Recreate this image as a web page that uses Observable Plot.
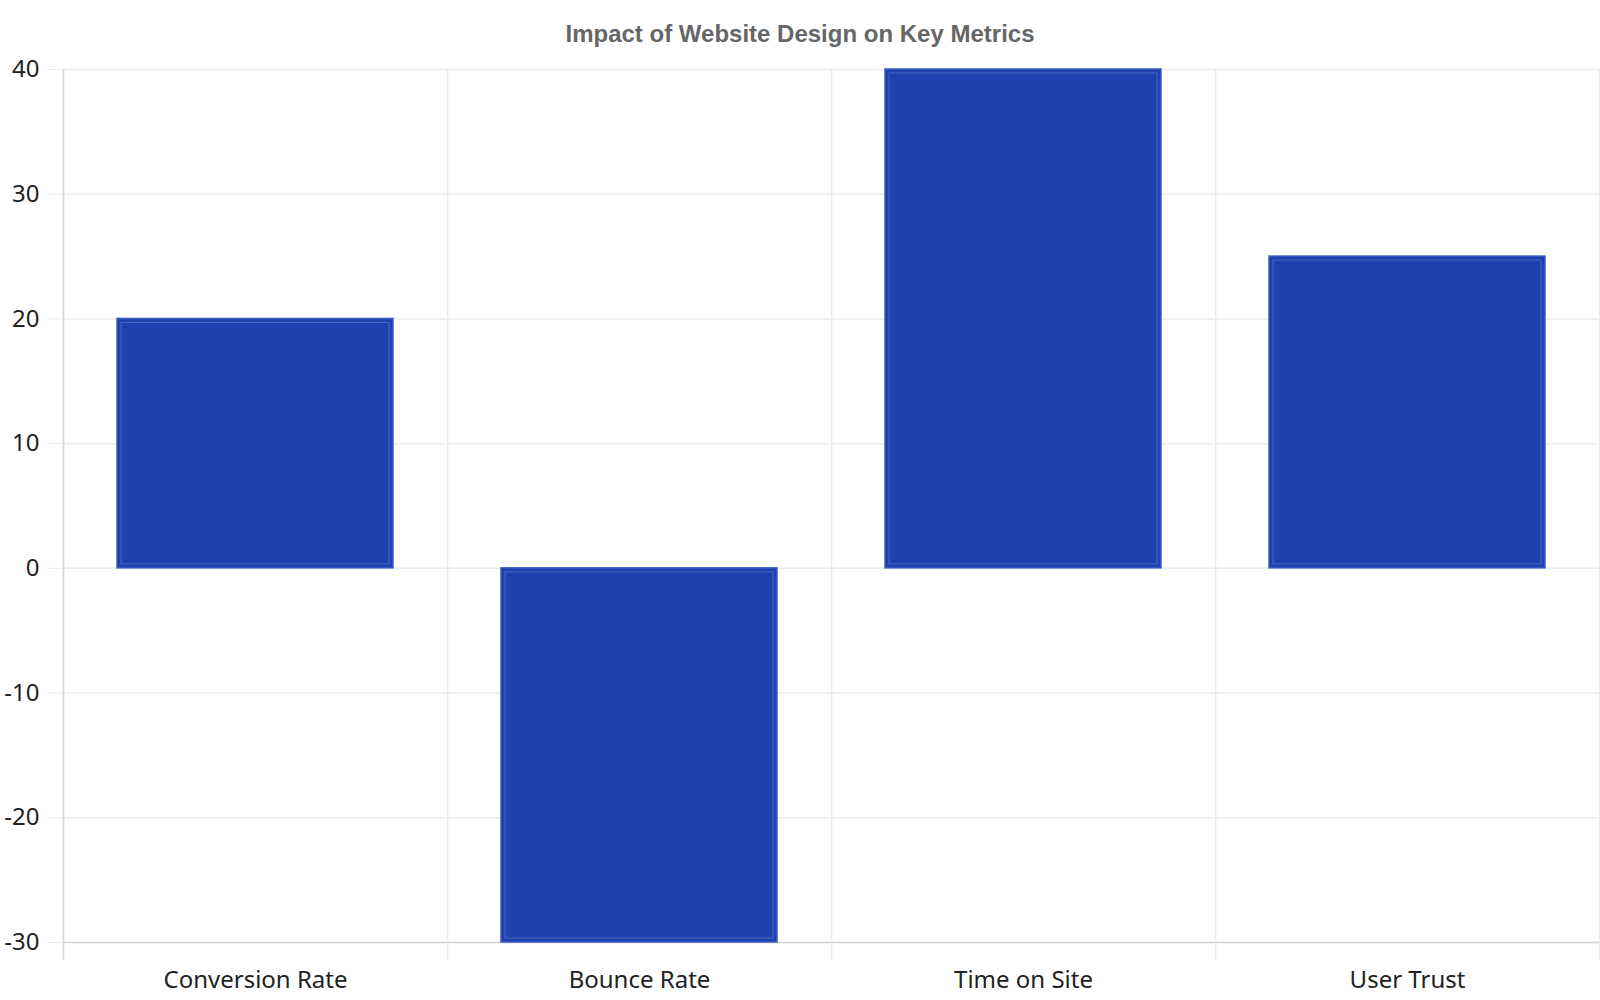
<!DOCTYPE html>
<html>
<head>
<meta charset="utf-8">
<script src="https://cdn.jsdelivr.net/npm/d3@7"></script>
<script src="https://cdn.jsdelivr.net/npm/@observablehq/plot@0.6"></script>
<style>
  html, body { margin: 0; padding: 0; background: #fff; }
  #wrap { position: relative; width: 1600px; height: 1000px; }
  #title { position: absolute; left: 0; top: 20px; width: 1600px; text-align: center;
    font-family: "Liberation Sans", Arial, sans-serif; font-weight: bold; font-size: 24px; color: #666; }
  #chart { position: absolute; left: 0; top: 0; }
</style>
</head>
<body>
<div id="wrap">
  <div id="chart"></div>
  <div id="title">Impact of Website Design on Key Metrics</div>
</div>
<script>
const categories = ["Conversion Rate", "Bounce Rate", "Time on Site", "User Trust"];
const values = [20, -30, 40, 25];
const yTicks = [-30, -20, -10, 0, 10, 20, 30, 40];

const data = categories.map((c, i) => ({metric: c, value: values[i]}));

const W = 1600, H = 1000, mL = 63, mR = 1, mT = 69, mB = 58;
const step = (W - mL - mR) / categories.length;
const tickExt = -31.4;

const chart = Plot.plot({
  width: W, height: H,
  marginLeft: mL, marginRight: mR, marginTop: mT, marginBottom: mB,
  style: {fontFamily: "'Noto Sans', 'Open Sans', sans-serif", fontSize: "24px", color: "#222", background: "#fff"},
  x: {domain: categories, padding: 0, label: null},
  y: {domain: [-30, 40], label: null},
  marks: [
    Plot.gridY(yTicks, {stroke: "#ebebeb", strokeOpacity: 1, strokeWidth: 1.5}),
    Plot.ruleX(categories, {x: d => d, dx: -step / 2, y1: tickExt, y2: 40, stroke: "#ebebeb", strokeWidth: 1.5}),
    Plot.ruleX([categories[categories.length - 1]], {x: d => d, dx: step / 2, y1: tickExt, y2: 40, stroke: "#ebebeb", strokeWidth: 1.5}),
    Plot.ruleY([-30], {stroke: "#d6d6d6", strokeWidth: 1.5}),
    Plot.ruleX([categories[0]], {x: d => d, dx: -step / 2, y1: tickExt, y2: 40, stroke: "#d6d6d6", strokeWidth: 1.5}),
    Plot.axisY({ticks: yTicks, tickFormat: d => String(d), tickSize: 15, tickPadding: 9, stroke: "#ebebeb", strokeOpacity: 1, fill: "#222", label: null}),
    Plot.axisX({tickSize: 0, tickPadding: 28, fill: "#222", label: null}),
    Plot.barY(data, {x: "metric", y: "value", fill: "#1f41ae", stroke: "#3a5bc8", strokeWidth: 1.5, insetLeft: 54, insetRight: 54}),
    Plot.barY(data, {x: "metric", y: "value", fill: "none", stroke: "rgba(255,255,255,0.2)", strokeWidth: 1, insetLeft: 58, insetRight: 58, insetTop: 4, insetBottom: 4})
  ]
});
document.getElementById("chart").appendChild(chart);
</script>
</body>
</html>
